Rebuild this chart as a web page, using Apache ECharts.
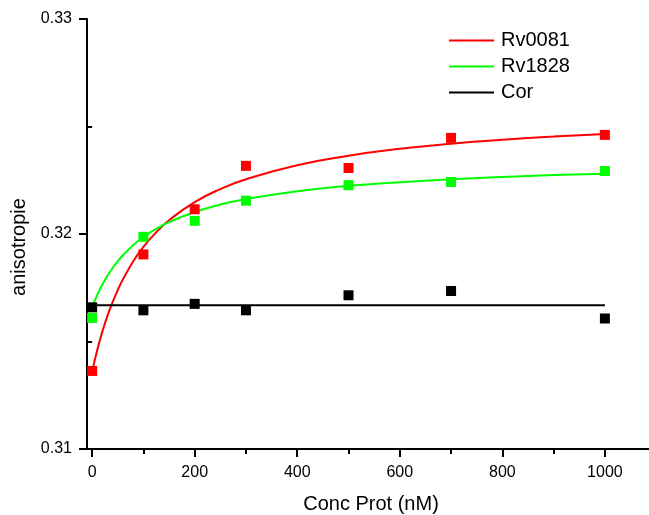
<!DOCTYPE html>
<html>
<head>
<meta charset="utf-8">
<script src="https://cdn.jsdelivr.net/npm/echarts@6/dist/echarts.min.js"></script>
<style>
html,body{margin:0;padding:0;background:#fff;}
#c{width:649px;height:515px;}
</style>
</head>
<body>
<div id="c"></div>
<script>
// Measured points
var concX = [0, 100, 200, 300, 500, 700, 1000];
var rv0081 = [0.31363, 0.31905, 0.32115, 0.32317, 0.32307, 0.32447, 0.32461];
var rv1828 = [0.31610, 0.31987, 0.32061, 0.32155, 0.32227, 0.32242, 0.32293];
var cor    = [0.31659, 0.31645, 0.31675, 0.31645, 0.31715, 0.31735, 0.31607];

// Fitted curves
var fitX      = [0, 10, 20, 30, 40, 50, 60, 80, 100, 125, 150, 200, 250, 300, 400, 500, 600, 700, 800, 900, 1000];
var fitRv0081 = [0.31360, 0.31461, 0.31546, 0.31620, 0.31683, 0.31739, 0.31789, 0.31872, 0.31940, 0.32008, 0.32064, 0.32148, 0.32209, 0.32255, 0.32320, 0.32364, 0.32396, 0.32420, 0.32438, 0.32453, 0.32465];
var fitRv1828 = [0.31660, 0.31717, 0.31765, 0.31806, 0.31842, 0.31873, 0.31901, 0.31948, 0.31986, 0.32024, 0.32055, 0.32102, 0.32137, 0.32162, 0.32199, 0.32224, 0.32241, 0.32255, 0.32265, 0.32274, 0.32280];
var fitCorX   = [0, 1000];
var fitCor    = [0.31669, 0.31669];

// Tick labels
var xTicks = [0, 200, 400, 600, 800, 1000];
var xMinor = [100, 300, 500, 700, 900];
var yTicks = [0.31, 0.32, 0.33];
var yMinor = [0.315, 0.325];

function pairs(xs, ys){ return xs.map(function(x,i){ return [x, ys[i]]; }); }

var FONT = 'Liberation Sans, Arial, sans-serif';
var chart = echarts.init(document.getElementById('c'), null, {renderer:'canvas'});
var axisLine = {show:true, onZero:false, lineStyle:{color:'#000', width:2}};

chart.setOption({
  animation:false,
  backgroundColor:'#fff',
  grid:{left:87, right:0, top:19, bottom:66, containLabel:false, outerBoundsMode:'none'},
  legend:{
    orient:'vertical', left:449, top:29, padding:0,
    icon:'rect', itemWidth:45, itemHeight:2, itemGap:3,
    data:['Rv0081','Rv1828','Cor'],
    textStyle:{fontFamily:FONT, fontSize:20, color:'#000', lineHeight:23, padding:[0,0,0,2]}
  },
  xAxis:[{
    type:'value', min:-10, max:1086,
    name:'Conc Prot (nM)', nameLocation:'middle', nameGap:45,
    nameTextStyle:{fontFamily:FONT, fontSize:20, color:'#000', padding:[0,0,0,6]},
    axisLine:axisLine,
    axisTick:{show:true, inside:false, length:8, customValues:xTicks, lineStyle:{color:'#000', width:2}},
    axisLabel:{show:true, customValues:xTicks, margin:16, fontFamily:FONT, fontSize:16, color:'#000',
      formatter:function(v){ return String(v); }},
    splitLine:{show:false}
  },{
    type:'value', min:-10, max:1086, position:'bottom', offset:0,
    axisLine:{show:false},
    axisTick:{show:true, length:5, customValues:xMinor, lineStyle:{color:'#000', width:2}},
    axisLabel:{show:false},
    splitLine:{show:false}
  }],
  yAxis:[{
    type:'value', min:0.31, max:0.33,
    name:'anisotropie', nameLocation:'middle', nameGap:54,
    nameTextStyle:{fontFamily:FONT, fontSize:20, color:'#000', padding:[0,26,0,0]},
    axisLine:axisLine,
    axisTick:{show:true, length:8, customValues:yTicks, lineStyle:{color:'#000', width:2}},
    axisLabel:{show:true, customValues:yTicks, margin:15, fontFamily:FONT, fontSize:16, color:'#000',
      formatter:function(v){ return v.toFixed(2); }},
    splitLine:{show:false}
  },{
    type:'value', min:0.31, max:0.33, position:'left', offset:0,
    axisLine:{show:false},
    axisTick:{show:true, length:5, customValues:yMinor, lineStyle:{color:'#000', width:2}},
    axisLabel:{show:false},
    splitLine:{show:false}
  }],
  series:[
    {name:'Rv0081', type:'line', data:pairs(fitX, fitRv0081), symbol:'none', smooth:true,
     lineStyle:{color:'#ff0000', width:2}, itemStyle:{color:'#ff0000'}, z:2},
    {name:'Rv1828', type:'line', data:pairs(fitX, fitRv1828), symbol:'none', smooth:true,
     lineStyle:{color:'#00ff00', width:2}, itemStyle:{color:'#00ff00'}, z:2},
    {name:'Cor', type:'line', data:pairs(fitCorX, fitCor), symbol:'none',
     lineStyle:{color:'#000000', width:2}, itemStyle:{color:'#000000'}, z:2},
    {type:'scatter', data:pairs(concX, rv0081), symbol:'rect', symbolSize:10, itemStyle:{color:'#ff0000', opacity:1}, z:3},
    {type:'scatter', data:pairs(concX, rv1828), symbol:'rect', symbolSize:10, itemStyle:{color:'#00ff00', opacity:1}, z:3},
    {type:'scatter', data:pairs(concX, cor), symbol:'rect', symbolSize:10, itemStyle:{color:'#000000', opacity:1}, z:3}
  ]
});
</script>
</body>
</html>
